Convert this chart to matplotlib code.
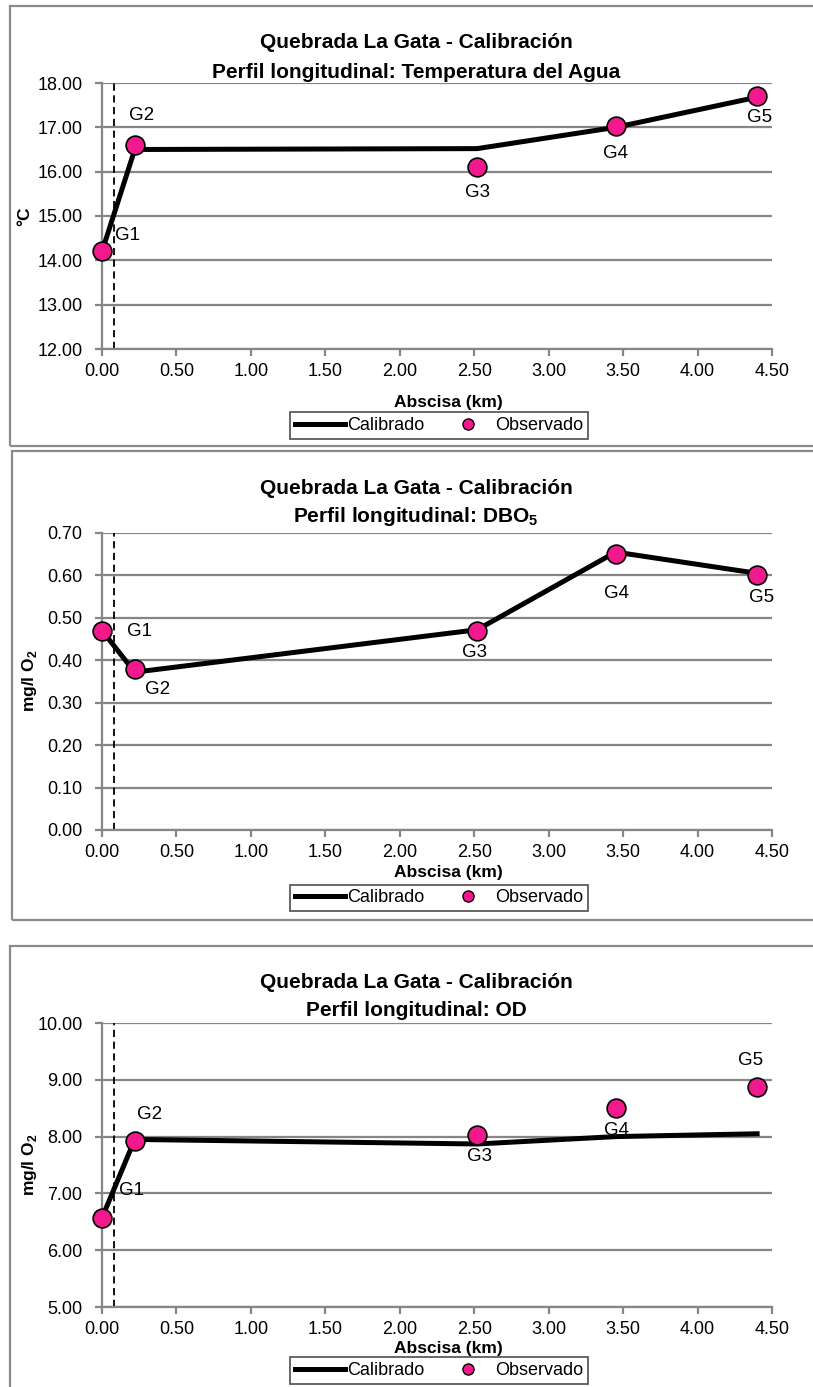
import matplotlib as mpl
mpl.use('Agg')
import matplotlib.pyplot as plt
from matplotlib.patches import Rectangle
from matplotlib.lines import Line2D

# station data (abscisa in km)
stations = ['G1', 'G2', 'G3', 'G4', 'G5']
x_obs = [0.0, 0.22, 2.52, 3.45, 4.40]
x_cal = [0.0, 0.22, 2.52, 3.45, 4.40]

temp_obs = [14.2, 16.6, 16.1, 17.02, 17.7]
temp_cal = [14.2, 16.5, 16.52, 17.0, 17.68]

dbo_obs = [0.47, 0.38, 0.47, 0.65, 0.60]
dbo_cal = [0.47, 0.372, 0.472, 0.655, 0.605]

od_obs = [6.57, 7.93, 8.03, 8.50, 8.87]
od_cal = [6.57, 7.95, 7.87, 8.00, 8.05]

x_ticks = [0.0, 0.5, 1.0, 1.5, 2.0, 2.5, 3.0, 3.5, 4.0, 4.5]
x_dashed = 0.08

W, H = 813, 1387
plt.rcParams['font.family'] = ['Liberation Sans', 'DejaVu Sans']
plt.rcParams['mathtext.fontset'] = 'custom'
plt.rcParams['mathtext.rm'] = 'Liberation Sans'
plt.rcParams['mathtext.bf'] = 'Liberation Sans:bold'

GRID = '#868686'
PINK = '#f2198c'

fig = plt.figure(figsize=(W / 100, H / 100), dpi=100)


def fx(px):
    return px / W


def fy(py):
    return 1 - py / H


def frame(x0, y0, x1, y1):
    fig.patches.append(Rectangle((fx(x0), fy(y1)), fx(x1 - x0), (y1 - y0) / H,
                                 transform=fig.transFigure, fill=False,
                                 edgecolor='#8a8a8a', lw=1.6, zorder=0))


def panel(top, bottom, obs, cal, yticks, ylabel, title2, offsets,
          t1, t2, xl, leg, lab_x, lab_y):
    ax = fig.add_axes([fx(102), fy(bottom), fx(772 - 102), (bottom - top) / H])
    ax.set_xlim(0, 4.5)
    ax.set_ylim(yticks[0], yticks[-1])
    ax.set_xticks(x_ticks)
    ax.set_yticks(yticks)
    ax.set_xticklabels(['%.2f' % v for v in x_ticks])
    ax.set_yticklabels(['%.2f' % v for v in yticks])
    for s in ['top', 'right']:
        ax.spines[s].set_visible(False)
    for s in ['left', 'bottom']:
        ax.spines[s].set_color(GRID)
        ax.spines[s].set_linewidth(1.6)
    ax.tick_params(axis='both', colors=GRID, labelcolor='black', labelsize=13,
                   length=5, width=1.6, direction='out')
    ax.tick_params(axis='x', pad=5)
    ax.tick_params(axis='y', pad=9)
    ax.yaxis.grid(True, color=GRID, lw=1.6)
    ax.set_axisbelow(True)

    ax.axvline(x_dashed, color='black', lw=1.3, ls=(0, (4, 2.5)), zorder=2)
    ax.plot(x_cal, cal, color='black', lw=3.6, zorder=3, clip_on=False,
            solid_joinstyle='miter')
    ax.plot(x_obs, obs, 'o', ms=13.5, mfc=PINK, mec='black', mew=1.2,
            zorder=4, clip_on=False)
    for name, xv, yv, off in zip(stations, x_obs, obs, offsets):
        ax.annotate(name, (xv, yv), xytext=off, textcoords='offset pixels',
                    ha='center', va='center', fontsize=13.5, zorder=5)

    fig.text(fx(416), fy(t1), 'Quebrada La Gata - Calibración', ha='center',
             va='center', fontsize=15, fontweight='bold')
    fig.text(fx(416), fy(t2), title2, ha='center', va='center',
             fontsize=15, fontweight='bold')
    fig.text(fx(448), fy(xl), 'Abscisa (km)', ha='center', va='center',
             fontsize=12.5, fontweight='bold')
    fig.text(fx(lab_x), fy(lab_y), ylabel, ha='center', va='center',
             rotation=90, fontsize=12.5, fontweight='bold')

    handles = [Line2D([], [], color='black', lw=3.6),
               Line2D([], [], ls='', marker='o', ms=8, mfc=PINK, mec='black',
                      mew=1.0)]
    lg = fig.legend(handles, ['Calibrado', 'Observado'], ncol=2, loc='center',
                    bbox_to_anchor=(fx(439), fy(leg)), fontsize=13,
                    frameon=True, fancybox=False, handlelength=2.8,
                    handletextpad=0.1, columnspacing=1.0, borderpad=0.25,
                    borderaxespad=0)
    lg.get_frame().set_edgecolor('#333333')
    lg.get_frame().set_linewidth(1.3)
    return ax


frame(10, 6, 840, 446)
frame(12, 451, 840, 920)
frame(10, 946, 840, 1420)

panel(83, 349, temp_obs, temp_cal, [12, 13, 14, 15, 16, 17, 18], '°C',
      'Perfil longitudinal: Temperatura del Agua',
      [(26, 16), (7, 30), (0, -25), (0, -27), (2, -21)],
      42, 72, 403, 425.5, 25, 216)

panel(533, 830, dbo_obs, dbo_cal,
      [0.0, 0.1, 0.2, 0.3, 0.4, 0.5, 0.6, 0.7], r'mg/l O$_\mathbf{2}$',
      r'Perfil longitudinal: DBO$_\mathbf{5}$',
      [(38, -1), (23, -21), (-3, -22), (1, -39), (4, -22)],
      488, 517, 873, 898, 29, 681)

panel(1023, 1307, od_obs, od_cal, [5, 6, 7, 8, 9, 10], r'mg/l O$_\mathbf{2}$',
      'Perfil longitudinal: OD',
      [(30, 27), (15, 26), (2, -22), (1, -22), (-7, 27)],
      982, 1010, 1348, 1370.5, 29, 1165)

fig.savefig('out.png', dpi=100)
